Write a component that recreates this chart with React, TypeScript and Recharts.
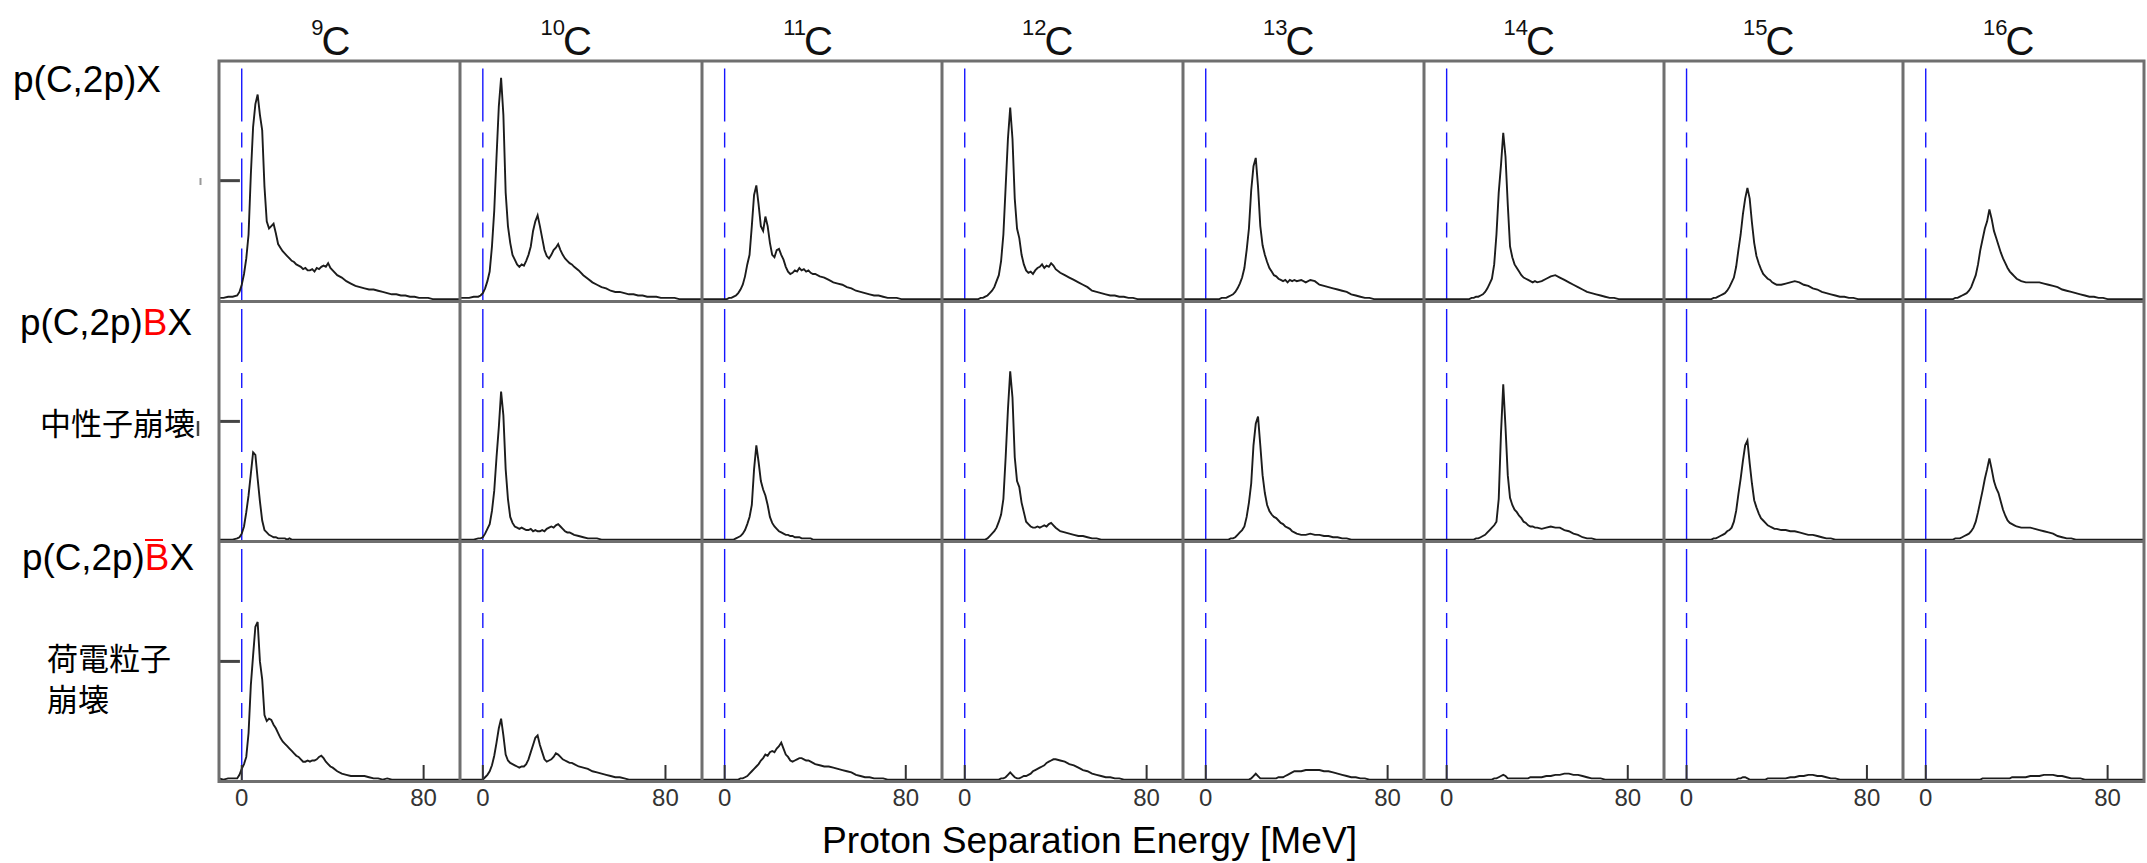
import React from 'react';
import { LineChart, Line, XAxis, YAxis, ReferenceLine } from 'recharts';

// Proton separation energy grid [MeV]
const energy = [
  -10, -8, -6, -4, -2, -1,
  0, 1, 2, 3, 4, 5, 6, 7, 8, 9,
  10, 11, 12, 13, 14, 15, 16, 17, 18, 19,
  20, 21, 22, 23, 24, 25, 26, 27, 28, 29,
  30, 31, 32, 33, 34, 35, 36, 37, 38, 39,
  40, 42, 44, 46, 48, 50, 52, 54, 56, 58,
  60, 62, 64, 66, 68, 70, 72, 74, 76, 78,
  80, 82, 84, 86, 88, 90, 92, 94, 96,
];

const isotopeMass = ['9', '10', '11', '12', '13', '14', '15', '16'];
const xTicks = [0, 80];
const yTickValue = 1;

// Row 1: p(C,2p)X
const incl9 = [
  0.02, 0.02, 0.03, 0.03, 0.04, 0.07,
  0.13, 0.22, 0.35, 0.55, 1.05, 1.45, 1.64, 1.72, 1.55, 1.42,
  0.95, 0.66, 0.60, 0.62, 0.64, 0.56, 0.47, 0.44, 0.41, 0.39,
  0.37, 0.35, 0.33, 0.32, 0.30, 0.29, 0.28, 0.26, 0.27, 0.25,
  0.25, 0.26, 0.24, 0.27, 0.26, 0.28, 0.29, 0.28, 0.31, 0.27,
  0.25, 0.21, 0.19, 0.16, 0.14, 0.12, 0.11, 0.10, 0.09, 0.09,
  0.08, 0.07, 0.06, 0.05, 0.05, 0.04, 0.04, 0.03, 0.03, 0.02,
  0.02, 0.02, 0.01, 0.01, 0.01, 0.01, 0.01, 0.01, 0.01,
];
const incl10 = [
  0.02, 0.02, 0.02, 0.03, 0.03, 0.04,
  0.06, 0.10, 0.16, 0.24, 0.45, 0.75, 1.20, 1.62, 1.86, 1.55,
  0.90, 0.62, 0.48, 0.38, 0.34, 0.30, 0.28, 0.30, 0.29, 0.33,
  0.38, 0.45, 0.58, 0.66, 0.71, 0.62, 0.52, 0.42, 0.37, 0.35,
  0.38, 0.42, 0.44, 0.47, 0.42, 0.38, 0.35, 0.33, 0.31, 0.30,
  0.28, 0.25, 0.21, 0.18, 0.15, 0.13, 0.11, 0.10, 0.08, 0.07,
  0.07, 0.06, 0.05, 0.05, 0.04, 0.04, 0.03, 0.03, 0.03, 0.02,
  0.02, 0.02, 0.02, 0.01, 0.01, 0.01, 0.01, 0.01, 0.01,
];
const incl11 = [
  0.01, 0.01, 0.01, 0.01, 0.01, 0.01,
  0.01, 0.01, 0.02, 0.02, 0.03, 0.04, 0.06, 0.09, 0.13, 0.20,
  0.30, 0.38, 0.62, 0.88, 0.96, 0.80, 0.62, 0.58, 0.70, 0.62,
  0.48, 0.38, 0.36, 0.42, 0.43, 0.38, 0.34, 0.28, 0.24, 0.22,
  0.23, 0.25, 0.24, 0.27, 0.25, 0.26, 0.24, 0.25, 0.23, 0.22,
  0.22, 0.20, 0.19, 0.17, 0.15, 0.14, 0.13, 0.11, 0.10, 0.08,
  0.07, 0.06, 0.05, 0.04, 0.04, 0.03, 0.02, 0.02, 0.02, 0.01,
  0.01, 0.01, 0.01, 0.01, 0.01, 0.01, 0.01, 0.01, 0.01,
];
const incl12 = [
  0.01, 0.01, 0.01, 0.01, 0.01, 0.01,
  0.01, 0.01, 0.01, 0.01, 0.01, 0.01, 0.01, 0.02, 0.02, 0.03,
  0.04, 0.06, 0.08, 0.11, 0.16, 0.21, 0.33, 0.55, 0.95, 1.35,
  1.61, 1.35, 0.85, 0.60, 0.52, 0.38, 0.30, 0.25, 0.23, 0.24,
  0.22, 0.25, 0.27, 0.28, 0.30, 0.27, 0.29, 0.28, 0.31, 0.29,
  0.26, 0.23, 0.21, 0.19, 0.17, 0.15, 0.13, 0.11, 0.08, 0.07,
  0.06, 0.05, 0.04, 0.04, 0.03, 0.03, 0.02, 0.02, 0.01, 0.01,
  0.01, 0.01, 0.01, 0.01, 0.01, 0.01, 0.01, 0.01, 0.01,
];
const incl13 = [
  0.01, 0.01, 0.01, 0.01, 0.01, 0.01,
  0.01, 0.01, 0.01, 0.01, 0.01, 0.01, 0.01, 0.02, 0.02, 0.02,
  0.03, 0.04, 0.05, 0.07, 0.10, 0.14, 0.19, 0.27, 0.42, 0.60,
  0.92, 1.12, 1.19, 0.95, 0.62, 0.46, 0.38, 0.32, 0.27, 0.24,
  0.21, 0.20, 0.18, 0.17, 0.16, 0.17, 0.15, 0.17, 0.16, 0.17,
  0.16, 0.17, 0.15, 0.17, 0.16, 0.13, 0.12, 0.11, 0.10, 0.09,
  0.08, 0.07, 0.05, 0.04, 0.03, 0.02, 0.02, 0.01, 0.01, 0.01,
  0.01, 0.01, 0.01, 0.01, 0.01, 0.01, 0.01, 0.01, 0.01,
];
const incl14 = [
  0.01, 0.01, 0.01, 0.01, 0.01, 0.01,
  0.01, 0.01, 0.01, 0.01, 0.01, 0.01, 0.01, 0.01, 0.01, 0.01,
  0.01, 0.02, 0.02, 0.03, 0.03, 0.04, 0.05, 0.07, 0.10, 0.14,
  0.18, 0.30, 0.55, 0.90, 1.13, 1.40, 1.20, 0.80, 0.45, 0.36,
  0.30, 0.27, 0.24, 0.21, 0.19, 0.18, 0.17, 0.16, 0.15, 0.16,
  0.15, 0.16, 0.18, 0.20, 0.21, 0.19, 0.17, 0.15, 0.13, 0.11,
  0.09, 0.07, 0.06, 0.05, 0.04, 0.03, 0.02, 0.02, 0.01, 0.01,
  0.01, 0.01, 0.01, 0.01, 0.01, 0.01, 0.01, 0.01, 0.01,
];
const incl15 = [
  0.01, 0.01, 0.01, 0.01, 0.01, 0.01,
  0.01, 0.01, 0.01, 0.01, 0.01, 0.01, 0.01, 0.01, 0.01, 0.01,
  0.01, 0.01, 0.02, 0.02, 0.03, 0.04, 0.05, 0.06, 0.08, 0.11,
  0.15, 0.19, 0.28, 0.42, 0.55, 0.72, 0.85, 0.94, 0.85, 0.65,
  0.48, 0.37, 0.31, 0.26, 0.22, 0.20, 0.18, 0.17, 0.15, 0.14,
  0.13, 0.13, 0.14, 0.15, 0.16, 0.15, 0.13, 0.12, 0.10, 0.09,
  0.07, 0.06, 0.05, 0.04, 0.03, 0.03, 0.02, 0.02, 0.01, 0.01,
  0.01, 0.01, 0.01, 0.01, 0.01, 0.01, 0.01, 0.01, 0.01,
];
const incl16 = [
  0.01, 0.01, 0.01, 0.01, 0.01, 0.01,
  0.01, 0.01, 0.01, 0.01, 0.01, 0.01, 0.01, 0.01, 0.01, 0.01,
  0.01, 0.01, 0.01, 0.02, 0.02, 0.03, 0.04, 0.05, 0.06, 0.08,
  0.11, 0.16, 0.21, 0.30, 0.42, 0.51, 0.60, 0.66, 0.76, 0.68,
  0.58, 0.52, 0.46, 0.40, 0.35, 0.31, 0.27, 0.24, 0.22, 0.20,
  0.18, 0.16, 0.15, 0.15, 0.15, 0.15, 0.14, 0.13, 0.12, 0.11,
  0.09, 0.08, 0.07, 0.06, 0.05, 0.04, 0.03, 0.03, 0.02, 0.02,
  0.01, 0.01, 0.01, 0.01, 0.01, 0.01, 0.01, 0.01, 0.01,
];

// Row 2: p(C,2p)BX (neutron decay)
const neut9 = [
  0.01, 0.01, 0.01, 0.01, 0.02, 0.03,
  0.06, 0.12, 0.24, 0.38, 0.56, 0.74, 0.72, 0.52, 0.33, 0.17,
  0.09, 0.07, 0.05, 0.04, 0.03, 0.03, 0.02, 0.02, 0.02, 0.02,
  0.01, 0.02, 0.01, 0.01, 0.01, 0.01, 0.01, 0.01, 0.01, 0.01,
  0.01, 0.01, 0.01, 0.01, 0.01, 0.01, 0.01, 0.01, 0.01, 0.01,
  0.01, 0.01, 0.01, 0.01, 0.01, 0.01, 0.01, 0.01, 0.01, 0.01,
  0.01, 0.01, 0.01, 0.01, 0.01, 0.01, 0.01, 0.01, 0.01, 0.01,
  0.01, 0.01, 0.01, 0.01, 0.01, 0.01, 0.01, 0.01, 0.01,
];
const neut10 = [
  0.01, 0.01, 0.01, 0.01, 0.02, 0.02,
  0.03, 0.06, 0.10, 0.14, 0.25, 0.42, 0.70, 0.95, 1.25, 1.05,
  0.60, 0.35, 0.20, 0.15, 0.12, 0.11, 0.10, 0.11, 0.10, 0.09,
  0.09, 0.10, 0.08, 0.09, 0.08, 0.08, 0.09, 0.08, 0.10, 0.11,
  0.12, 0.11, 0.13, 0.14, 0.12, 0.10, 0.08, 0.07, 0.07, 0.06,
  0.05, 0.04, 0.03, 0.02, 0.02, 0.02, 0.01, 0.01, 0.01, 0.01,
  0.01, 0.01, 0.01, 0.01, 0.01, 0.01, 0.01, 0.01, 0.01, 0.01,
  0.01, 0.01, 0.01, 0.01, 0.01, 0.01, 0.01, 0.01, 0.01,
];
const neut11 = [
  0.01, 0.01, 0.01, 0.01, 0.01, 0.01,
  0.01, 0.01, 0.01, 0.01, 0.01, 0.02, 0.03, 0.04, 0.06, 0.09,
  0.14, 0.20, 0.30, 0.60, 0.80, 0.66, 0.50, 0.43, 0.38, 0.30,
  0.20, 0.15, 0.12, 0.10, 0.08, 0.07, 0.06, 0.05, 0.05, 0.04,
  0.04, 0.03, 0.03, 0.03, 0.02, 0.02, 0.02, 0.02, 0.02, 0.01,
  0.01, 0.01, 0.01, 0.01, 0.01, 0.01, 0.01, 0.01, 0.01, 0.01,
  0.01, 0.01, 0.01, 0.01, 0.01, 0.01, 0.01, 0.01, 0.01, 0.01,
  0.01, 0.01, 0.01, 0.01, 0.01, 0.01, 0.01, 0.01, 0.01,
];
const neut12 = [
  0.01, 0.01, 0.01, 0.01, 0.01, 0.01,
  0.01, 0.01, 0.01, 0.01, 0.01, 0.01, 0.01, 0.01, 0.01, 0.01,
  0.02, 0.04, 0.06, 0.08, 0.11, 0.16, 0.22, 0.35, 0.70, 1.10,
  1.42, 1.20, 0.70, 0.50, 0.45, 0.32, 0.24, 0.16, 0.14, 0.12,
  0.11, 0.11, 0.12, 0.11, 0.12, 0.13, 0.12, 0.14, 0.15, 0.13,
  0.11, 0.08, 0.07, 0.06, 0.05, 0.04, 0.04, 0.03, 0.02, 0.02,
  0.01, 0.01, 0.01, 0.01, 0.01, 0.01, 0.01, 0.01, 0.01, 0.01,
  0.01, 0.01, 0.01, 0.01, 0.01, 0.01, 0.01, 0.01, 0.01,
];
const neut13 = [
  0.01, 0.01, 0.01, 0.01, 0.01, 0.01,
  0.01, 0.01, 0.01, 0.01, 0.01, 0.01, 0.01, 0.01, 0.01, 0.01,
  0.01, 0.02, 0.02, 0.03, 0.05, 0.07, 0.09, 0.12, 0.20, 0.32,
  0.48, 0.80, 0.98, 1.04, 0.80, 0.55, 0.40, 0.30, 0.25, 0.22,
  0.20, 0.19, 0.17, 0.15, 0.14, 0.12, 0.11, 0.10, 0.08, 0.07,
  0.06, 0.05, 0.05, 0.06, 0.05, 0.05, 0.04, 0.04, 0.03, 0.03,
  0.02, 0.02, 0.01, 0.01, 0.01, 0.01, 0.01, 0.01, 0.01, 0.01,
  0.01, 0.01, 0.01, 0.01, 0.01, 0.01, 0.01, 0.01, 0.01,
];
const neut14 = [
  0.01, 0.01, 0.01, 0.01, 0.01, 0.01,
  0.01, 0.01, 0.01, 0.01, 0.01, 0.01, 0.01, 0.01, 0.01, 0.01,
  0.01, 0.01, 0.01, 0.02, 0.02, 0.03, 0.04, 0.05, 0.07, 0.09,
  0.11, 0.13, 0.16, 0.35, 0.90, 1.31, 0.95, 0.55, 0.36, 0.30,
  0.26, 0.24, 0.21, 0.19, 0.16, 0.15, 0.13, 0.12, 0.12, 0.11,
  0.11, 0.10, 0.11, 0.12, 0.11, 0.11, 0.09, 0.08, 0.06, 0.05,
  0.03, 0.02, 0.02, 0.01, 0.01, 0.01, 0.01, 0.01, 0.01, 0.01,
  0.01, 0.01, 0.01, 0.01, 0.01, 0.01, 0.01, 0.01, 0.01,
];
const neut15 = [
  0.01, 0.01, 0.01, 0.01, 0.01, 0.01,
  0.01, 0.01, 0.01, 0.01, 0.01, 0.01, 0.01, 0.01, 0.01, 0.01,
  0.01, 0.01, 0.02, 0.02, 0.03, 0.04, 0.05, 0.06, 0.08, 0.09,
  0.11, 0.16, 0.25, 0.39, 0.52, 0.67, 0.80, 0.84, 0.65, 0.48,
  0.34, 0.28, 0.23, 0.19, 0.17, 0.15, 0.13, 0.12, 0.11, 0.10,
  0.10, 0.09, 0.09, 0.08, 0.08, 0.07, 0.06, 0.05, 0.05, 0.04,
  0.03, 0.02, 0.02, 0.01, 0.01, 0.01, 0.01, 0.01, 0.01, 0.01,
  0.01, 0.01, 0.01, 0.01, 0.01, 0.01, 0.01, 0.01, 0.01,
];
const neut16 = [
  0.01, 0.01, 0.01, 0.01, 0.01, 0.01,
  0.01, 0.01, 0.01, 0.01, 0.01, 0.01, 0.01, 0.01, 0.01, 0.01,
  0.01, 0.01, 0.01, 0.02, 0.02, 0.02, 0.03, 0.04, 0.05, 0.06,
  0.08, 0.11, 0.16, 0.24, 0.33, 0.42, 0.52, 0.60, 0.69, 0.60,
  0.50, 0.44, 0.40, 0.33, 0.26, 0.21, 0.17, 0.15, 0.14, 0.13,
  0.12, 0.11, 0.11, 0.11, 0.10, 0.09, 0.08, 0.07, 0.06, 0.04,
  0.03, 0.02, 0.02, 0.01, 0.01, 0.01, 0.01, 0.01, 0.01, 0.01,
  0.01, 0.01, 0.01, 0.01, 0.01, 0.01, 0.01, 0.01, 0.01,
];

// Row 3: p(C,2p)B̄X (charged-particle decay)
const chg9 = [
  0.02, 0.01, 0.02, 0.02, 0.02, 0.05,
  0.10, 0.14, 0.20, 0.40, 0.80, 1.05, 1.29, 1.33, 1.00, 0.85,
  0.55, 0.50, 0.52, 0.51, 0.47, 0.44, 0.40, 0.36, 0.33, 0.31,
  0.29, 0.27, 0.25, 0.23, 0.21, 0.20, 0.18, 0.16, 0.16, 0.17,
  0.16, 0.17, 0.17, 0.18, 0.20, 0.21, 0.19, 0.16, 0.14, 0.12,
  0.11, 0.08, 0.06, 0.05, 0.04, 0.04, 0.04, 0.04, 0.03, 0.02,
  0.02, 0.01, 0.02, 0.01, 0.01, 0.01, 0.01, 0.01, 0.01, 0.01,
  0.01, 0.01, 0.01, 0.01, 0.01, 0.01, 0.01, 0.01, 0.01,
];
const chg10 = [
  0.01, 0.01, 0.01, 0.01, 0.01, 0.01,
  0.01, 0.03, 0.05, 0.08, 0.13, 0.21, 0.32, 0.44, 0.52, 0.38,
  0.22, 0.17, 0.15, 0.14, 0.13, 0.12, 0.11, 0.12, 0.12, 0.14,
  0.18, 0.24, 0.30, 0.36, 0.38, 0.30, 0.24, 0.18, 0.16, 0.17,
  0.18, 0.20, 0.23, 0.22, 0.20, 0.18, 0.17, 0.16, 0.15, 0.15,
  0.14, 0.12, 0.11, 0.10, 0.08, 0.07, 0.06, 0.05, 0.04, 0.03,
  0.03, 0.02, 0.01, 0.01, 0.01, 0.01, 0.01, 0.01, 0.01, 0.01,
  0.01, 0.01, 0.01, 0.01, 0.01, 0.01, 0.01, 0.01, 0.01,
];
const chg11 = [
  0.01, 0.01, 0.01, 0.01, 0.01, 0.01,
  0.01, 0.01, 0.01, 0.01, 0.01, 0.01, 0.01, 0.02, 0.02, 0.03,
  0.04, 0.06, 0.08, 0.10, 0.12, 0.14, 0.17, 0.19, 0.22, 0.21,
  0.24, 0.25, 0.24, 0.27, 0.29, 0.32, 0.27, 0.22, 0.20, 0.17,
  0.16, 0.17, 0.18, 0.19, 0.19, 0.18, 0.17, 0.17, 0.16, 0.15,
  0.14, 0.13, 0.12, 0.12, 0.11, 0.10, 0.09, 0.08, 0.07, 0.05,
  0.04, 0.03, 0.03, 0.02, 0.02, 0.02, 0.01, 0.01, 0.01, 0.01,
  0.01, 0.01, 0.01, 0.01, 0.01, 0.01, 0.01, 0.01, 0.01,
];
const chg12 = [
  0.01, 0.01, 0.01, 0.01, 0.01, 0.01,
  0.01, 0.01, 0.01, 0.01, 0.01, 0.01, 0.01, 0.01, 0.01, 0.01,
  0.01, 0.01, 0.01, 0.01, 0.01, 0.01, 0.02, 0.02, 0.03, 0.05,
  0.07, 0.05, 0.03, 0.02, 0.02, 0.03, 0.04, 0.04, 0.05, 0.06,
  0.08, 0.09, 0.10, 0.11, 0.12, 0.13, 0.15, 0.16, 0.17, 0.18,
  0.18, 0.17, 0.16, 0.14, 0.13, 0.11, 0.09, 0.08, 0.06, 0.05,
  0.04, 0.03, 0.03, 0.02, 0.02, 0.01, 0.01, 0.01, 0.01, 0.01,
  0.01, 0.01, 0.01, 0.01, 0.01, 0.01, 0.01, 0.01, 0.01,
];
const chg13 = [
  0.01, 0.01, 0.01, 0.01, 0.01, 0.01,
  0.01, 0.01, 0.01, 0.01, 0.01, 0.01, 0.01, 0.01, 0.01, 0.01,
  0.01, 0.01, 0.01, 0.01, 0.01, 0.01, 0.01, 0.01, 0.01, 0.01,
  0.02, 0.04, 0.06, 0.04, 0.02, 0.02, 0.02, 0.02, 0.02, 0.02,
  0.02, 0.02, 0.03, 0.03, 0.03, 0.04, 0.05, 0.06, 0.07, 0.08,
  0.08, 0.08, 0.09, 0.09, 0.09, 0.09, 0.08, 0.08, 0.07, 0.06,
  0.05, 0.04, 0.03, 0.03, 0.02, 0.02, 0.01, 0.01, 0.01, 0.01,
  0.01, 0.01, 0.01, 0.01, 0.01, 0.01, 0.01, 0.01, 0.01,
];
const chg14 = [
  0.01, 0.01, 0.01, 0.01, 0.01, 0.01,
  0.01, 0.01, 0.01, 0.01, 0.01, 0.01, 0.01, 0.01, 0.01, 0.01,
  0.01, 0.01, 0.01, 0.01, 0.01, 0.01, 0.01, 0.01, 0.01, 0.01,
  0.01, 0.02, 0.02, 0.03, 0.04, 0.05, 0.04, 0.02, 0.02, 0.02,
  0.02, 0.02, 0.02, 0.02, 0.02, 0.02, 0.02, 0.03, 0.03, 0.03,
  0.03, 0.03, 0.04, 0.04, 0.05, 0.05, 0.06, 0.06, 0.05, 0.05,
  0.04, 0.03, 0.02, 0.02, 0.02, 0.01, 0.01, 0.01, 0.01, 0.01,
  0.01, 0.01, 0.01, 0.01, 0.01, 0.01, 0.01, 0.01, 0.01,
];
const chg15 = [
  0.01, 0.01, 0.01, 0.01, 0.01, 0.01,
  0.01, 0.01, 0.01, 0.01, 0.01, 0.01, 0.01, 0.01, 0.01, 0.01,
  0.01, 0.01, 0.01, 0.01, 0.01, 0.01, 0.01, 0.01, 0.01, 0.01,
  0.01, 0.01, 0.01, 0.02, 0.02, 0.03, 0.03, 0.02, 0.01, 0.01,
  0.01, 0.01, 0.01, 0.01, 0.01, 0.01, 0.02, 0.02, 0.02, 0.02,
  0.02, 0.02, 0.02, 0.03, 0.03, 0.04, 0.04, 0.05, 0.05, 0.04,
  0.04, 0.03, 0.02, 0.02, 0.01, 0.01, 0.01, 0.01, 0.01, 0.01,
  0.01, 0.01, 0.01, 0.01, 0.01, 0.01, 0.01, 0.01, 0.01,
];
const chg16 = [
  0.01, 0.01, 0.01, 0.01, 0.01, 0.01,
  0.01, 0.01, 0.01, 0.01, 0.01, 0.01, 0.01, 0.01, 0.01, 0.01,
  0.01, 0.01, 0.01, 0.01, 0.01, 0.01, 0.01, 0.01, 0.01, 0.01,
  0.01, 0.01, 0.01, 0.01, 0.01, 0.02, 0.02, 0.02, 0.02, 0.02,
  0.02, 0.02, 0.02, 0.02, 0.02, 0.02, 0.02, 0.02, 0.03, 0.03,
  0.03, 0.03, 0.03, 0.04, 0.04, 0.04, 0.05, 0.05, 0.05, 0.04,
  0.04, 0.03, 0.02, 0.02, 0.02, 0.01, 0.01, 0.01, 0.01, 0.01,
  0.01, 0.01, 0.01, 0.01, 0.01, 0.01, 0.01, 0.01, 0.01,
];

const rowSeries = [
  [incl9, incl10, incl11, incl12, incl13, incl14, incl15, incl16],
  [neut9, neut10, neut11, neut12, neut13, neut14, neut15, neut16],
  [chg9, chg10, chg11, chg12, chg13, chg14, chg15, chg16],
];

// layout (pixels)
const colEdges = [219, 460, 702, 942, 1183, 1424, 1664, 1903, 2144];
const rowEdges = [61, 301.5, 541.5, 781.5];
const X_DOMAIN: [number, number] = [-10, 96];
const Y_DOMAIN: [number, number] = [-0.01, 2];
const FONT = '"Liberation Sans", Arial, Helvetica, sans-serif';
const CJK = '"Noto Sans CJK JP", "Noto Sans CJK SC", sans-serif';
const FRAME = '#6f6f6f';

const XTick = (props: any) => {
  const { x, y, payload } = props;
  return (
    <g>
      <line x1={x} x2={x} y1={y} y2={y - 17} stroke="#333" strokeWidth={2} />
      <text x={x} y={y + 24} textAnchor="middle" fontSize={24} fill="#333" fontFamily={FONT}>
        {payload.value}
      </text>
    </g>
  );
};

function Panel({ values, row, col }: { values: number[]; row: number; col: number }) {
  const data = energy.map((e, i) => ({ e, v: values[i] }));
  const isBottom = row === 2;
  const w = colEdges[col + 1] - colEdges[col];
  const h = rowEdges[row + 1] - rowEdges[row] + (isBottom ? 40 : 0);
  return (
    <div style={{ position: 'absolute', left: colEdges[col], top: rowEdges[row], width: w, height: h }}>
      <LineChart width={w} height={h} data={data} margin={{ top: 0, right: 0, bottom: 0, left: 0 }}>
        <XAxis
          dataKey="e"
          type="number"
          domain={X_DOMAIN}
          allowDataOverflow
          ticks={xTicks}
          interval={0}
          hide={!isBottom}
          height={40}
          axisLine={false}
          tickLine={false}
          tickSize={0}
          tickMargin={0}
          tick={<XTick />}
        />
        <YAxis type="number" domain={Y_DOMAIN} allowDataOverflow hide width={0} />
        {col === 0 && (
          <ReferenceLine
            segment={[
              { x: X_DOMAIN[0], y: yTickValue },
              { x: -0.8, y: yTickValue },
            ]}
            stroke="#444"
            strokeWidth={3}
            ifOverflow="extendDomain"
          />
        )}
        <ReferenceLine x={0} stroke="#1515ff" strokeWidth={1.4} strokeDasharray="53 11 15 11" />
        <Line
          dataKey="v"
          type="linear"
          stroke="#1c1c1c"
          strokeWidth={1.9}
          dot={false}
          isAnimationActive={false}
        />
      </LineChart>
    </div>
  );
}

export default function App() {
  const top = rowEdges[0];
  const bottom = rowEdges[rowEdges.length - 1];
  const left = colEdges[0];
  const right = colEdges[colEdges.length - 1];
  return (
    <div
      style={{
        position: 'absolute',
        left: 0,
        top: 0,
        width: 2147,
        height: 863,
        background: '#ffffff',
        overflow: 'hidden',
      }}
    >
      {rowSeries.map((series, r) =>
        series.map((values, c) => <Panel key={`${r}-${c}`} values={values} row={r} col={c} />)
      )}
      <svg
        width={2147}
        height={863}
        style={{ position: 'absolute', left: 0, top: 0, pointerEvents: 'none' }}
      >
        {/* panel frames */}
        <rect x={left} y={top} width={right - left} height={bottom - top} fill="none" stroke={FRAME} strokeWidth={3} />
        {colEdges.slice(1, -1).map((x) => (
          <line key={`c${x}`} x1={x} x2={x} y1={top} y2={bottom} stroke={FRAME} strokeWidth={3} />
        ))}
        {rowEdges.slice(1, -1).map((y) => (
          <line key={`r${y}`} x1={left} x2={right} y1={y} y2={y} stroke={FRAME} strokeWidth={3} />
        ))}

        {/* column titles */}
        {isotopeMass.map((m, i) => {
          const cx = (colEdges[i] + colEdges[i + 1]) / 2;
          return (
            <g key={m} fontFamily={FONT} fill="#111">
              <text x={cx - 16} y={35} textAnchor="end" fontSize={22}>
                {m}
              </text>
              <text x={cx - 18} y={55} fontSize={40}>
                C
              </text>
            </g>
          );
        })}

        {/* row labels */}
        <text x={13} y={92} fontSize={36} fontFamily={FONT} fill="#000" textLength={148} lengthAdjust="spacingAndGlyphs">
          p(C,2p)X
        </text>
        <line x1={200.5} x2={200.5} y1={178} y2={185} stroke="#999" strokeWidth={2} />
        <text x={20} y={335} fontSize={36} fontFamily={FONT} fill="#000" textLength={172} lengthAdjust="spacingAndGlyphs">
          p(C,2p)<tspan fill="#ff0000">B</tspan>X
        </text>
        <text x={40} y={435} fontSize={31} fontFamily={CJK} fill="#000">
          中性子崩壊
        </text>
        <line x1={198} x2={198} y1={421} y2={436} stroke="#444" strokeWidth={2.5} />
        <text x={22} y={570} fontSize={36} fontFamily={FONT} fill="#000" textLength={172} lengthAdjust="spacingAndGlyphs">
          p(C,2p)<tspan fill="#ff0000">B</tspan>X
        </text>
        <line x1={145} x2={163} y1={540} y2={540} stroke="#ff0000" strokeWidth={2} />
        <text x={47} y={670} fontSize={31} fontFamily={CJK} fill="#000">
          荷電粒子
        </text>
        <text x={47} y={711} fontSize={31} fontFamily={CJK} fill="#000">
          崩壊
        </text>

        {/* x-axis title */}
        <text x={822} y={853} fontSize={37} fontFamily={FONT} fill="#000" textLength={535} lengthAdjust="spacingAndGlyphs">
          Proton Separation Energy [MeV]
        </text>
      </svg>
    </div>
  );
}
